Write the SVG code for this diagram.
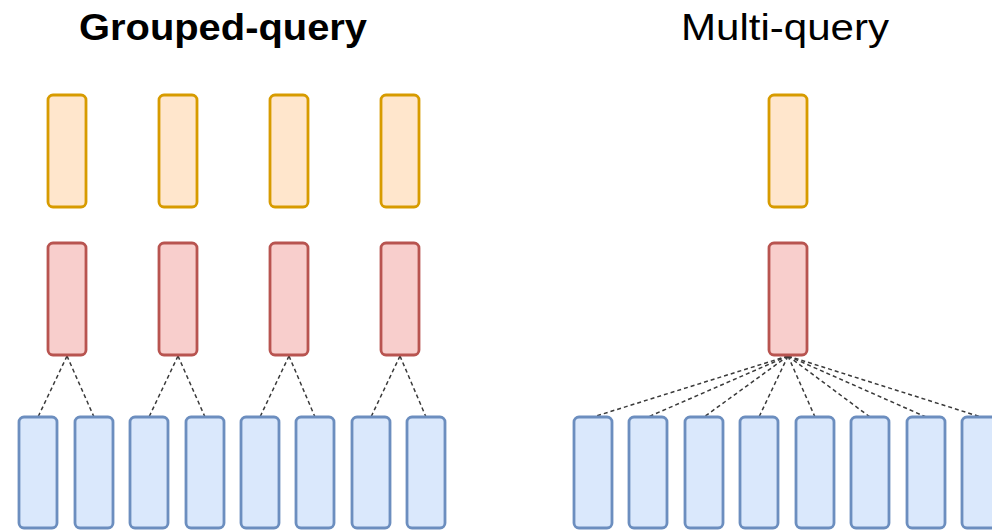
<svg xmlns="http://www.w3.org/2000/svg" width="992" height="530" viewBox="0 0 992 530">
  <defs>
    <style>
      .title { font-family: "Liberation Sans", Arial, sans-serif; font-size: 36px; fill: #000; text-anchor: middle; }
      .bold { font-weight: bold; }
      .q { fill: #ffe6cc; stroke: #d79b00; stroke-width: 2.8; }
      .k { fill: #f8cecc; stroke: #b85450; stroke-width: 2.8; }
      .v { fill: #dae8fc; stroke: #6c8ebf; stroke-width: 2.8; }
      .link { stroke: #3a3a3a; stroke-width: 1.5; stroke-dasharray: 4 3; fill: none; }
    </style>
  </defs>
  <rect width="992" height="530" fill="#fff"/>

  <!-- Titles -->
  <text class="title bold" x="223" y="40" textLength="288" lengthAdjust="spacingAndGlyphs">Grouped-query</text>
  <text class="title" x="785" y="40" textLength="208" lengthAdjust="spacingAndGlyphs">Multi-query</text>

  <!-- Connectors -->
  <g id="connectors">
    <!-- grouped-query: each key head shared by two value heads -->
    <line class="link" x1="67" y1="356" x2="38" y2="417"/>
    <line class="link" x1="67" y1="356" x2="94" y2="417"/>
    <line class="link" x1="178" y1="356" x2="149" y2="417"/>
    <line class="link" x1="178" y1="356" x2="205" y2="417"/>
    <line class="link" x1="289" y1="356" x2="260" y2="417"/>
    <line class="link" x1="289" y1="356" x2="315" y2="417"/>
    <line class="link" x1="400" y1="356" x2="371" y2="417"/>
    <line class="link" x1="400" y1="356" x2="426" y2="417"/>
    <!-- multi-query: one key head shared by all value heads -->
    <line class="link" x1="788" y1="356" x2="593" y2="417"/>
    <line class="link" x1="788" y1="356" x2="648" y2="417"/>
    <line class="link" x1="788" y1="356" x2="704" y2="417"/>
    <line class="link" x1="788" y1="356" x2="759" y2="417"/>
    <line class="link" x1="788" y1="356" x2="815" y2="417"/>
    <line class="link" x1="788" y1="356" x2="870" y2="417"/>
    <line class="link" x1="788" y1="356" x2="926" y2="417"/>
    <line class="link" x1="788" y1="356" x2="981" y2="417"/>
  </g>

  <!-- Grouped-query: query heads -->
  <g id="gq-q1"><rect class="q" x="48" y="95" width="38" height="112" rx="5"/></g>
  <g id="gq-q2"><rect class="q" x="159" y="95" width="38" height="112" rx="5"/></g>
  <g id="gq-q3"><rect class="q" x="270" y="95" width="38" height="112" rx="5"/></g>
  <g id="gq-q4"><rect class="q" x="381" y="95" width="38" height="112" rx="5"/></g>

  <!-- Grouped-query: key heads -->
  <g id="gq-k1"><rect class="k" x="48" y="243" width="38" height="112" rx="5"/></g>
  <g id="gq-k2"><rect class="k" x="159" y="243" width="38" height="112" rx="5"/></g>
  <g id="gq-k3"><rect class="k" x="270" y="243" width="38" height="112" rx="5"/></g>
  <g id="gq-k4"><rect class="k" x="381" y="243" width="38" height="112" rx="5"/></g>

  <!-- Grouped-query: value heads -->
  <g id="gq-v1"><rect class="v" x="19" y="417" width="38" height="111" rx="5"/></g>
  <g id="gq-v2"><rect class="v" x="75" y="417" width="38" height="111" rx="5"/></g>
  <g id="gq-v3"><rect class="v" x="130" y="417" width="38" height="111" rx="5"/></g>
  <g id="gq-v4"><rect class="v" x="186" y="417" width="38" height="111" rx="5"/></g>
  <g id="gq-v5"><rect class="v" x="241" y="417" width="38" height="111" rx="5"/></g>
  <g id="gq-v6"><rect class="v" x="296" y="417" width="38" height="111" rx="5"/></g>
  <g id="gq-v7"><rect class="v" x="352" y="417" width="38" height="111" rx="5"/></g>
  <g id="gq-v8"><rect class="v" x="407" y="417" width="38" height="111" rx="5"/></g>

  <!-- Multi-query -->
  <g id="mq-q"><rect class="q" x="769" y="95" width="38" height="112" rx="5"/></g>
  <g id="mq-k"><rect class="k" x="769" y="243" width="38" height="112" rx="5"/></g>
  <g id="mq-v1"><rect class="v" x="574" y="417" width="38" height="111" rx="5"/></g>
  <g id="mq-v2"><rect class="v" x="629" y="417" width="38" height="111" rx="5"/></g>
  <g id="mq-v3"><rect class="v" x="685" y="417" width="38" height="111" rx="5"/></g>
  <g id="mq-v4"><rect class="v" x="740" y="417" width="38" height="111" rx="5"/></g>
  <g id="mq-v5"><rect class="v" x="796" y="417" width="38" height="111" rx="5"/></g>
  <g id="mq-v6"><rect class="v" x="851" y="417" width="38" height="111" rx="5"/></g>
  <g id="mq-v7"><rect class="v" x="907" y="417" width="38" height="111" rx="5"/></g>
  <g id="mq-v8"><rect class="v" x="962" y="417" width="38" height="111" rx="5"/></g>
</svg>
